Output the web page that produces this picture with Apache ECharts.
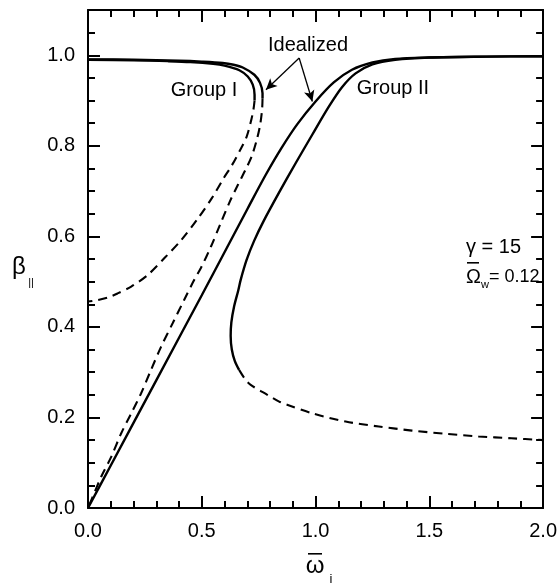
<!DOCTYPE html>
<html>
<head>
<meta charset="utf-8">
<script src="https://cdn.jsdelivr.net/npm/echarts@6/dist/echarts.min.js"></script>
<style>
  html, body { margin: 0; padding: 0; background: #fff; }
  #chart { width: 560px; height: 586px; }
</style>
</head>
<body>
<div id="chart"></div>
<script>
// Group I (real beam): upper solid branch and lower dashed branch
const groupIRealSolid = [
  [0, 0.990], [0.2, 0.989], [0.35, 0.987], [0.45, 0.985], [0.55, 0.981],
  [0.6, 0.977], [0.665, 0.967], [0.702, 0.953], [0.724, 0.935], [0.732, 0.913], [0.732, 0.900],
];
const groupIRealDashed = [
  [0.732, 0.900], [0.727, 0.880], [0.716, 0.854], [0.697, 0.820], [0.668, 0.790],
  [0.630, 0.755], [0.598, 0.730], [0.545, 0.685], [0.481, 0.638], [0.410, 0.592],
  [0.336, 0.552], [0.263, 0.515], [0.190, 0.489], [0.130, 0.474], [0.088, 0.465],
  [0.040, 0.459], [0, 0.456],
];
// Group I (idealized)
const groupIIdealSolid = [
  [0, 0.991], [0.2, 0.990], [0.4, 0.988], [0.5, 0.986], [0.592, 0.983],
  [0.64, 0.979], [0.68, 0.973], [0.731, 0.957], [0.756, 0.939], [0.767, 0.916], [0.767, 0.905],
];
const groupIIdealDashed = [
  [0.767, 0.905], [0.765, 0.880], [0.756, 0.845], [0.740, 0.810], [0.718, 0.775],
  [0.690, 0.745], [0.660, 0.715], [0.627, 0.681], [0.583, 0.629], [0.540, 0.577],
  [0.496, 0.530], [0.467, 0.504], [0.423, 0.460], [0.372, 0.408], [0.321, 0.356],
  [0.277, 0.305], [0.233, 0.253], [0.190, 0.209], [0.146, 0.165], [0.102, 0.113],
  [0.058, 0.069], [0.015, 0.018], [0, 0],
];
// Group II (idealized)
const groupIIIdealSolid = [
  [0, 0], [0.1, 0.094], [0.3, 0.282], [0.5, 0.470], [0.6, 0.565], [0.7, 0.660],
  [0.78, 0.735], [0.85, 0.795], [0.92, 0.848], [1.0, 0.898], [1.08, 0.940],
  [1.16, 0.968], [1.25, 0.984], [1.35, 0.992], [1.5, 0.995], [1.75, 0.997], [2.0, 0.998],
];
// Group II (real beam)
const groupIIRealSolid = [
  [0.664, 0.305], [0.645, 0.325], [0.632, 0.350], [0.627, 0.380], [0.630, 0.410],
  [0.642, 0.445], [0.660, 0.480], [0.671, 0.504], [0.697, 0.548], [0.730, 0.590],
  [0.770, 0.632], [0.840, 0.697], [0.913, 0.762], [0.986, 0.825], [1.059, 0.887],
  [1.117, 0.930], [1.176, 0.960], [1.25, 0.980], [1.35, 0.990], [1.5, 0.995],
  [1.75, 0.997], [2.0, 0.998],
];
const groupIIRealDashed = [
  [0.664, 0.305], [0.690, 0.285], [0.715, 0.272], [0.788, 0.250], [0.840, 0.235],
  [0.875, 0.228], [0.986, 0.209], [1.132, 0.191], [1.278, 0.180], [1.424, 0.171],
  [1.570, 0.164], [1.716, 0.158], [1.861, 0.154], [2.0, 0.150],
];

// "Idealized" arrows: from the label to each idealized curve
const arrowFrom = [0.928, 0.994];
const arrowTargets = [[0.782, 0.924], [0.986, 0.898]];

const FONT = 'Liberation Sans';
const BLACK = '#000';

const chart = echarts.init(document.getElementById('chart'));

// one axis object per tick layer (major / minor) and side
const xLayer = (position, interval, tickLen, withLine, withLabel) => ({
  type: 'value', min: 0, max: 2, interval, position,
  axisLine: { show: withLine, onZero: false, lineStyle: { color: BLACK, width: 2 } },
  axisTick: { show: true, inside: true, length: tickLen, lineStyle: { color: BLACK, width: 2 } },
  axisLabel: withLabel
    ? { show: true, margin: 13, fontSize: 20, color: BLACK, fontFamily: FONT, formatter: (v) => v.toFixed(1) }
    : { show: false },
  splitLine: { show: false },
});
const yLayer = (position, interval, tickLen, withLine, withLabel) => ({
  type: 'value', min: 0, max: 1.1, interval, position,
  axisLine: { show: withLine, onZero: false, lineStyle: { color: BLACK, width: 2 } },
  axisTick: { show: true, inside: true, length: tickLen, lineStyle: { color: BLACK, width: 2 } },
  axisLabel: withLabel
    ? { show: true, showMaxLabel: false, margin: 13, fontSize: 20, color: BLACK, fontFamily: FONT, formatter: (v) => v.toFixed(1) }
    : { show: false },
  splitLine: { show: false },
});

const curve = (data, dashed) => ({
  type: 'line',
  data,
  xAxisIndex: 0,
  yAxisIndex: 0,
  symbol: 'none',
  smooth: 0.3,
  lineStyle: {
    color: BLACK,
    width: dashed ? 2.1 : 2.4,
    type: dashed ? [9, 6] : 'solid',
  },
});

chart.setOption({
  animation: false,
  grid: { left: 88, right: 15, top: 10, bottom: 78 },
  xAxis: [
    xLayer('bottom', 0.5, 12, true, true),
    xLayer('bottom', 0.1, 7, false, false),
    xLayer('top', 0.5, 12, true, false),
    xLayer('top', 0.1, 7, false, false),
  ],
  yAxis: [
    yLayer('left', 0.2, 12, true, true),
    yLayer('left', 0.05, 7, false, false),
    yLayer('right', 0.2, 12, true, false),
    yLayer('right', 0.05, 7, false, false),
  ],
  series: [
    curve(groupIRealSolid, false),
    curve(groupIRealDashed, true),
    curve(groupIIdealSolid, false),
    curve(groupIIdealDashed, true),
    curve(groupIIIdealSolid, false),
    curve(groupIIRealSolid, false),
    curve(groupIIRealDashed, true),
    {
      type: 'line',
      data: [],
      markLine: {
        silent: true,
        symbol: ['none', 'arrow'],
        symbolSize: [8, 11],
        label: { show: false },
        lineStyle: { color: BLACK, width: 1.3, type: 'solid' },
        data: arrowTargets.map((t) => [{ coord: arrowFrom }, { coord: t }]),
      },
    },
  ],
  graphic: [
    { type: 'text', x: 308, y: 45, style: { text: 'Idealized', font: '20px ' + FONT, fill: BLACK, align: 'center', verticalAlign: 'middle' } },
    { type: 'text', x: 204, y: 90, style: { text: 'Group I', font: '20px ' + FONT, fill: BLACK, align: 'center', verticalAlign: 'middle' } },
    { type: 'text', x: 393, y: 88, style: { text: 'Group II', font: '20px ' + FONT, fill: BLACK, align: 'center', verticalAlign: 'middle' } },
    { type: 'text', x: 466, y: 247, style: { text: 'γ = 15', font: '20px ' + FONT, fill: BLACK, align: 'left', verticalAlign: 'middle' } },
    { type: 'text', x: 466, y: 277, style: { text: 'Ω', font: '20px ' + FONT, fill: BLACK, align: 'left', verticalAlign: 'middle' } },
    { type: 'rect', shape: { x: 467, y: 262, width: 12, height: 1.6 }, style: { fill: BLACK } },
    { type: 'text', x: 481, y: 285, style: { text: 'w', font: '11px ' + FONT, fill: BLACK, align: 'left', verticalAlign: 'middle' } },
    { type: 'text', x: 489, y: 277, style: { text: '= 0.12', font: '18px ' + FONT, fill: BLACK, align: 'left', verticalAlign: 'middle' } },
    // y axis name: beta with parallel subscript
    { type: 'text', x: 19, y: 267, style: { text: 'β', font: '24px ' + FONT, fill: BLACK, align: 'center', verticalAlign: 'middle' } },
    { type: 'text', x: 31, y: 283, style: { text: '||', font: '11px ' + FONT, fill: BLACK, align: 'center', verticalAlign: 'middle' } },
    // x axis name: omega bar with subscript i
    { type: 'text', x: 315, y: 566, style: { text: 'ω', font: '24px ' + FONT, fill: BLACK, align: 'center', verticalAlign: 'middle' } },
    { type: 'rect', shape: { x: 308, y: 553, width: 14, height: 1.6 }, style: { fill: BLACK } },
    { type: 'text', x: 331, y: 579, style: { text: 'i', font: '13px ' + FONT, fill: BLACK, align: 'center', verticalAlign: 'middle' } },
  ],
});

window.addEventListener('resize', () => chart.resize());
</script>
</body>
</html>
